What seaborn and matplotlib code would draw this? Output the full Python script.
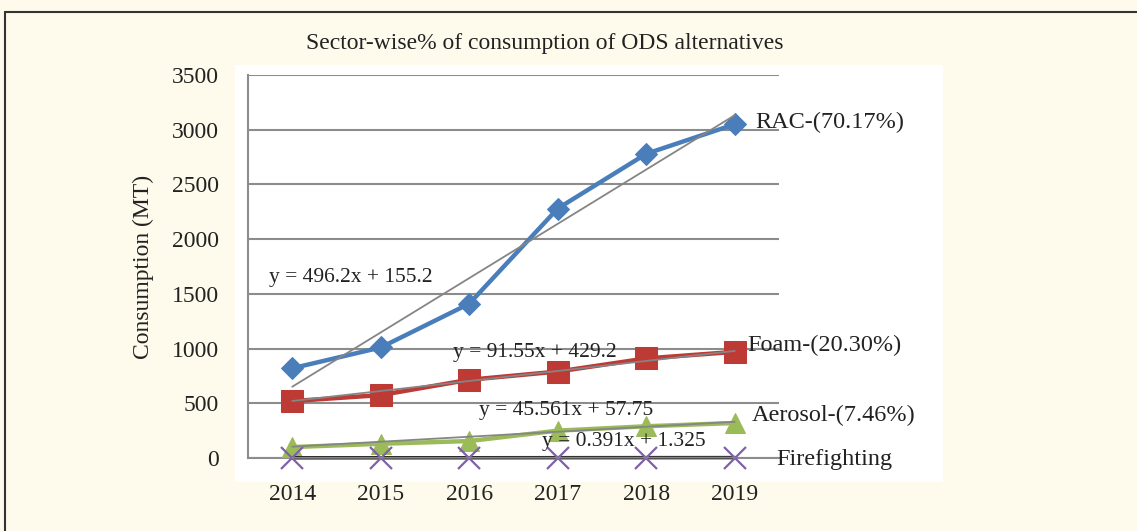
import numpy as np
import pandas as pd
import matplotlib
matplotlib.use('Agg')
import matplotlib.pyplot as plt
import seaborn as sns
from matplotlib.patches import Rectangle
from matplotlib.lines import Line2D

# ==============================================================================
# DATA
# ==============================================================================
years = ['2014', '2015', '2016', '2017', '2018', '2019']
rac = [820, 1010, 1410, 2280, 2780, 3050]
foam = [520, 575, 715, 790, 910, 970]
aerosol = [100, 130, 155, 250, 290, 320]
firefighting = [1.8, 2.1, 2.4, 2.9, 3.3, 3.6]

series_names = ['RAC-(70.17%)', 'Foam-(20.30%)', 'Aerosol-(7.46%)', 'Firefighting']
trend_slopes = [496.2, 91.55, 45.561, 0.391]
trend_intercepts = [155.2, 429.2, 57.75, 1.325]
trend_labels = ['y = 496.2x + 155.2', 'y = 91.55x + 429.2',
                'y = 45.561x + 57.75', 'y = 0.391x + 1.325']

df = pd.DataFrame({
    'x': list(range(1, len(years) + 1)) * 4,
    'value': rac + foam + aerosol + firefighting,
    'series': sum([[n] * len(years) for n in series_names], []),
})

# ==============================================================================
# STYLE
# ==============================================================================
sns.set_theme(style='white')
plt.rcParams['font.family'] = ['Liberation Serif', 'DejaVu Serif']

W, H = 1137, 531
fig = plt.figure(figsize=(W / 100, H / 100), dpi=100)
fig.patch.set_facecolor('#FEFBEC')

# outer frame (top + left) and white chart area
fig.add_artist(Line2D([5 / W, 1], [1 - 12 / H, 1 - 12 / H], color='#333333', lw=1.5))
fig.add_artist(Line2D([5 / W, 5 / W], [1 - 12 / H, 0], color='#333333', lw=1.5))
fig.add_artist(Rectangle((235 / W, 1 - 482 / H), (943 - 235) / W, (482 - 65) / H,
                         facecolor='white', edgecolor='none', zorder=0))

ax = fig.add_axes([248 / W, 1 - 458 / H, (779 - 248) / W, (458 - 75) / H])
ax.set_facecolor('none')

styles = {
    'RAC-(70.17%)': dict(color='#4A7EBB', marker='D', markersize=11, markeredgecolor='#4A7EBB', lw=3.2),
    'Foam-(20.30%)': dict(color='#BE3A34', marker='s', markersize=16, markeredgecolor='#BE3A34', lw=3.2),
    'Aerosol-(7.46%)': dict(color='#9BBB59', marker='^', markersize=15, markeredgecolor='#9BBB59', lw=3.2),
    'Firefighting': dict(color='#1A1A1A', marker='x', markersize=16, markeredgecolor='#7F60A8',
                         markeredgewidth=1.6, lw=2.5),
}

for name in series_names:
    sub = df[df['series'] == name]
    sns.lineplot(data=sub, x='x', y='value', ax=ax, legend=False, zorder=3,
                 clip_on=False, **styles[name])

# linear trend lines (from the printed equations)
xs = np.arange(1, len(years) + 1)
for m, c in zip(trend_slopes, trend_intercepts):
    ax.plot([xs[0], xs[-1]], [m * xs[0] + c, m * xs[-1] + c], color='#858585', lw=1.3,
            zorder=4, clip_on=False)

# equation labels
eq_pos = [(1.66, 1645), (3.74, 960), (4.09, 430), (4.75, 155)]
for (ex, ey), t in zip(eq_pos, trend_labels):
    ax.text(ex, ey, t, ha='center', va='center', fontsize=15.5, color='#222222', zorder=5)

# series labels at the right
lab_pos = [(6.23, 3065), (6.14, 1025), (6.19, 385), (6.47, -10)]
for (lx, ly), t in zip(lab_pos, series_names):
    ax.text(lx, ly, t, ha='left', va='center', fontsize=17.5, color='#222222', zorder=5)

ax.set_xlim(0.5, 6.5)
ax.set_ylim(0, 3500)
ax.set_xticks(xs)
ax.set_xticklabels(years)
ax.set_yticks(range(0, 3501, 500))
ax.yaxis.grid(True, color='#8C8C8C', lw=1.5)
ax.set_axisbelow(True)
ax.tick_params(axis='both', length=0, labelsize=17, colors='#222222')
ax.tick_params(axis='x', pad=19)
ax.tick_params(axis='y', pad=21)
for s in ['top', 'right']:
    ax.spines[s].set_visible(False)
for s in ['left', 'bottom']:
    ax.spines[s].set_color('#8C8C8C')
    ax.spines[s].set_linewidth(1.5)

ax.set_xlabel('')
ax.set_ylabel('Consumption (MT)', fontsize=17, color='#222222')
ax.yaxis.set_label_coords((154 - 248) / (779 - 248), 0.5)
fig.text(545 / W, 1 - 43 / H, 'Sector-wise% of consumption of ODS alternatives',
         ha='center', va='center', fontsize=17, color='#222222')

plt.savefig('out.png', dpi=100, facecolor=fig.get_facecolor())
